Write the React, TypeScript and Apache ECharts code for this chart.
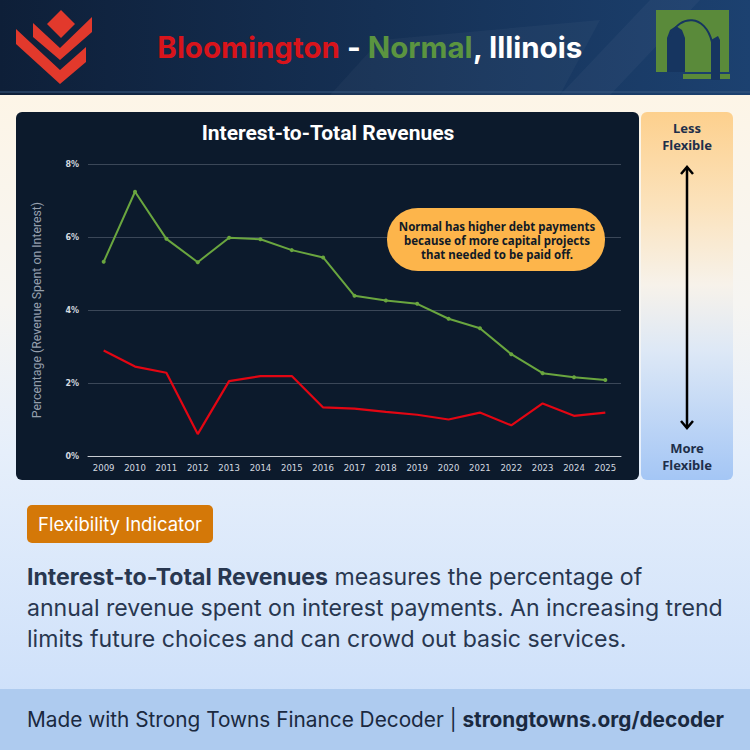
import React, { useEffect, useRef } from "react";
import * as echarts from "echarts";

const years = ["2009","2010","2011","2012","2013","2014","2015","2016","2017","2018","2019","2020","2021","2022","2023","2024","2025"];
const normal = [5.32,7.24,5.95,5.31,5.98,5.94,5.64,5.44,4.39,4.26,4.17,3.76,3.5,2.79,2.27,2.16,2.08];
const bloomington = [2.89,2.45,2.28,0.6,2.05,2.19,2.19,1.33,1.3,1.21,1.13,1.0,1.19,0.84,1.44,1.1,1.19];
const yTicks = { min: 0, max: 8, interval: 2 };

const NAVY_TEXT = "#283750";

export default function App() {
  const ref = useRef<HTMLDivElement>(null);
  useEffect(() => {
    const chart = echarts.init(ref.current!, null, { renderer: "svg" });
    const LG = echarts.graphic.LinearGradient;
    const graphic: any[] = [
      // page background
      { type: "rect", z: -20, shape: { x: 0, y: 95, width: 750, height: 595 },
        style: { fill: new LG(0, 0, 0, 1, [
          { offset: 0, color: "#fdf5e7" },
          { offset: 0.35, color: "#f6f5f2" },
          { offset: 0.6, color: "#e6effb" },
          { offset: 1, color: "#cfe1fa" }]) } },
      // header
      { type: "rect", z: -20, shape: { x: 0, y: 0, width: 750, height: 95 },
        style: { fill: new LG(0, 0, 1, 0, [
          { offset: 0, color: "#0e1f38" },
          { offset: 1, color: "#1c4170" }]) } },
      { type: "polygon", z: -19, shape: { points: [[560, 95], [650, 0], [700, 0], [610, 95]] }, style: { fill: "rgba(255,255,255,0.035)" } },
      { type: "polygon", z: -19, shape: { points: [[330, 95], [380, 40], [600, 20], [560, 95]] }, style: { fill: "rgba(255,255,255,0.03)" } },
      { type: "line", z: -19, shape: { x1: 0, y1: 92, x2: 750, y2: 92 }, style: { stroke: "#3b5a80", lineWidth: 1 } },
      // footer
      { type: "rect", z: -20, shape: { x: 0, y: 689, width: 750, height: 61 }, style: { fill: "#aecbef" } },
      // red logo
      { type: "polygon", shape: { points: [[61, 10], [75, 24], [61, 38], [47, 24]] }, style: { fill: "#e2392c" } },
      { type: "polygon", shape: { points: [[33, 23], [60, 48], [92, 17], [92, 32], [60, 60], [33, 37]] }, style: { fill: "#e2392c" } },
      { type: "polygon", shape: { points: [[16, 29], [60, 70], [86, 47], [86, 62], [60, 84], [16, 44]] }, style: { fill: "#e2392c" } },
      // green logo
      { type: "rect", shape: { x: 656, y: 10, width: 73, height: 62 }, style: { fill: "#5a8a3a" } },
      { type: "rect", shape: { x: 683, y: 74, width: 47, height: 5 }, style: { fill: "#5a8a3a" } },
      { type: "polygon", shape: { points: [[667, 72], [667, 38], [670, 30], [676, 26], [682, 30], [685, 38], [685, 72]] }, style: { fill: "#163560" } },
      { type: "polygon", shape: { points: [[711, 40], [718, 36], [720, 40], [720, 80], [711, 80]] }, style: { fill: "#163560" } },
      { type: "bezierCurve", shape: { x1: 670, y1: 36, x2: 712, y2: 42, cpx1: 680, cpy1: 14, cpx2: 705, cpy2: 14 }, style: { stroke: "#163560", lineWidth: 2, fill: "none" } },
      // header title
      { type: "text", x: 370, y: 47, style: {
        text: "{r|Bloomington}{w| - }{g|Normal}{w|, Illinois}", align: "center", verticalAlign: "middle",
        rich: {
          r: { fill: "#d8141b", fontSize: 29.5, fontWeight: "bold", fontFamily: "Inter" },
          w: { fill: "#ffffff", fontSize: 29.5, fontWeight: "bold", fontFamily: "Inter" },
          g: { fill: "#5b9440", fontSize: 29.5, fontWeight: "bold", fontFamily: "Inter" },
        } } },
      // chart panel
      { type: "rect", z: -10, shape: { x: 16, y: 112, width: 623, height: 368, r: 6 }, style: { fill: "#0c1a2c" } },
      { type: "text", x: 328, y: 133, style: { text: "Interest-to-Total Revenues", fill: "#ffffff", fontSize: 21, fontWeight: "bold", fontFamily: "Roboto", align: "center", verticalAlign: "middle" } },
      // annotation bubble
      { type: "rect", z: 10, shape: { x: 387, y: 208, width: 218, height: 63, r: 31 }, style: { fill: "#fdb54b" } },
      { type: "text", z: 11, x: 497, y: 219, style: { text: "Normal has higher debt payments\nbecause of more capital projects\nthat needed to be paid off.", fill: "#111a26", fontSize: 11.5, fontWeight: "bold", fontFamily: "Noto Sans", align: "center", verticalAlign: "top", lineHeight: 14 } },
      // flexibility panel
      { type: "rect", z: -10, shape: { x: 641, y: 112, width: 92, height: 368, r: 6 },
        style: { fill: new LG(0, 0, 0, 1, [
          { offset: 0, color: "#fdd08d" },
          { offset: 0.25, color: "#fbe2bb" },
          { offset: 0.47, color: "#f7f2ea" },
          { offset: 0.65, color: "#dde8f6" },
          { offset: 1, color: "#a4c6f5" }]) } },
      { type: "text", x: 687, y: 119, style: { text: "Less\nFlexible", fill: "#1e2f4a", fontSize: 13, fontWeight: "bold", fontFamily: "Noto Sans", align: "center", verticalAlign: "top", lineHeight: 17 } },
      { type: "text", x: 687, y: 439, style: { text: "More\nFlexible", fill: "#1e2f4a", fontSize: 13, fontWeight: "bold", fontFamily: "Noto Sans", align: "center", verticalAlign: "top", lineHeight: 17 } },
      { type: "line", shape: { x1: 687, y1: 167, x2: 687, y2: 428 }, style: { stroke: "#000000", lineWidth: 2.5 } },
      { type: "polyline", shape: { points: [[681, 174], [687, 167], [693, 174]] }, style: { stroke: "#000000", lineWidth: 2.5, fill: "none" } },
      { type: "polyline", shape: { points: [[681, 421], [687, 428], [693, 421]] }, style: { stroke: "#000000", lineWidth: 2.5, fill: "none" } },
      // badge
      { type: "rect", shape: { x: 27, y: 505, width: 186, height: 38, r: 5 }, style: { fill: "#d47808" } },
      { type: "text", x: 120, y: 524, style: { text: "Flexibility Indicator", fill: "#ffffff", fontSize: 18.5, fontFamily: "Inter", align: "center", verticalAlign: "middle" } },
      // paragraph
      { type: "text", x: 27, y: 561, style: {
        text: "{b|Interest-to-Total Revenues}{n| measures the percentage of}\n{n|annual revenue spent on interest payments. An increasing trend}\n{n|limits future choices and can crowd out basic services.}",
        align: "left", verticalAlign: "top",
        rich: {
          b: { fill: NAVY_TEXT, fontSize: 23.1, fontWeight: "bold", fontFamily: "Inter", lineHeight: 31 },
          n: { fill: NAVY_TEXT, fontSize: 23.1, fontFamily: "Inter", lineHeight: 31 },
        } } },
      // footer text
      { type: "text", x: 27, y: 719, style: {
        text: "{n|Made with Strong Towns Finance Decoder | }{b|strongtowns.org/decoder}",
        align: "left", verticalAlign: "middle",
        rich: {
          n: { fill: "#1a2940", fontSize: 20.8, fontFamily: "Inter" },
          b: { fill: "#1a2940", fontSize: 20.8, fontWeight: "bold", fontFamily: "Inter" },
        } } },
    ];

    chart.setOption({
      animation: false,
      graphic,
      grid: { left: 88, right: 129, top: 164, bottom: 294 },
      xAxis: {
        type: "category", data: years, boundaryGap: true,
        axisLine: { lineStyle: { color: "#c8ccd2", width: 1 } },
        axisTick: { show: false },
        axisLabel: { color: "#d6dae0", fontSize: 8.5, fontFamily: "DejaVu Sans", margin: 7 },
      },
      yAxis: {
        type: "value", min: yTicks.min, max: yTicks.max, interval: yTicks.interval,
        name: "Percentage (Revenue Spent on Interest)", nameLocation: "middle", nameGap: 45,
        nameTextStyle: { color: "#959fac", fontSize: 12.3, fontFamily: "Roboto" },
        axisLine: { show: false }, axisTick: { show: false },
        axisLabel: { formatter: "{value}%", color: "#d6dae0", fontSize: 8, fontWeight: "bold", fontFamily: "DejaVu Sans", margin: 9 },
        splitLine: { lineStyle: { color: "#3b4758", width: 1 } },
      },
      series: [
        { name: "Normal", type: "line", data: normal, symbol: "circle", symbolSize: 4,
          lineStyle: { color: "#6aa63f", width: 2 }, itemStyle: { color: "#6aa63f" } },
        { name: "Bloomington", type: "line", data: bloomington, symbol: "none",
          lineStyle: { color: "#e30613", width: 2.2 } },
      ],
    });
    return () => chart.dispose();
  }, []);
  return <div ref={ref} style={{ position: "absolute", left: 0, top: 0, width: 750, height: 750 }} />;
}
